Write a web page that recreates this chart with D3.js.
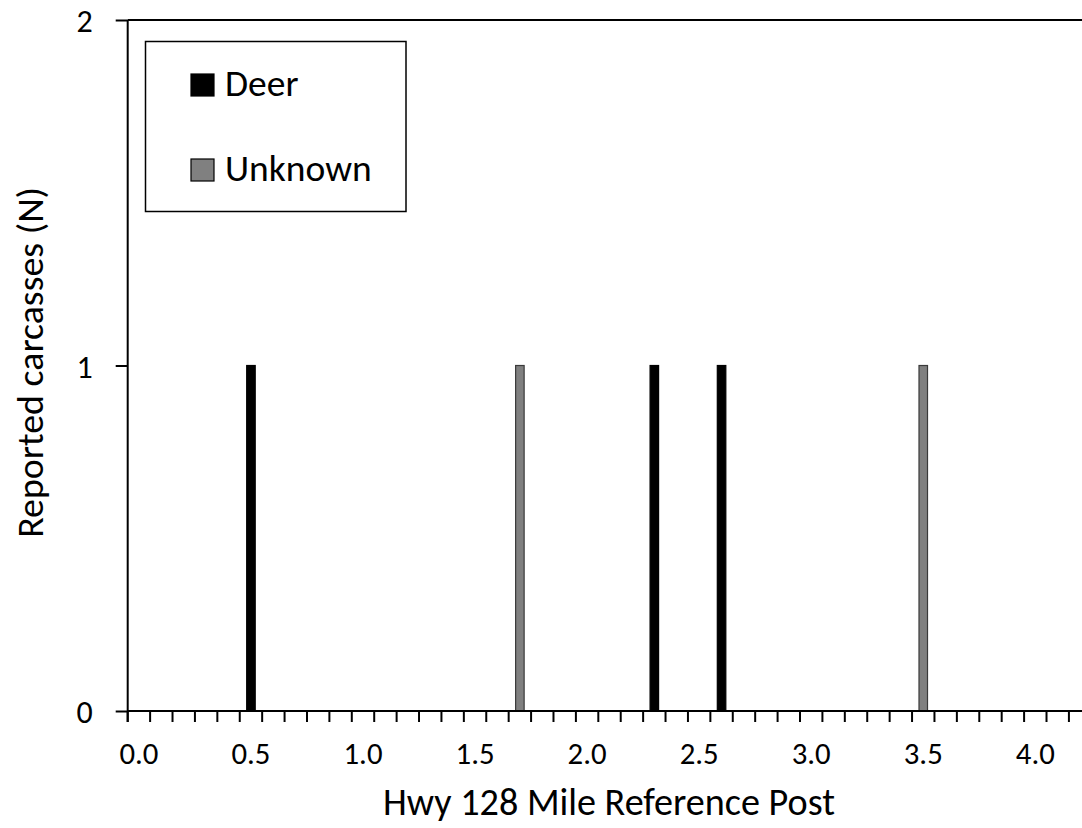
<!DOCTYPE html>
<html>
<head>
<meta charset="utf-8">
<script src="https://cdn.jsdelivr.net/npm/d3@7"></script>
<style>
  html, body { margin: 0; padding: 0; background: #fff; overflow: hidden; }
  svg { display: block; }
  text { font-family: Carlito, Lato, "Open Sans", sans-serif; fill: #000; }
</style>
</head>
<body>
<svg id="chart" width="1082" height="828"></svg>
<script>
// ---- data ----
const categories = ["0.0","0.1","0.2","0.3","0.4","0.5","0.6","0.7","0.8","0.9",
  "1.0","1.1","1.2","1.3","1.4","1.5","1.6","1.7","1.8","1.9",
  "2.0","2.1","2.2","2.3","2.4","2.5","2.6","2.7","2.8","2.9",
  "3.0","3.1","3.2","3.3","3.4","3.5","3.6","3.7","3.8","3.9",
  "4.0","4.1","4.2","4.3"];
const xTickLabels = ["0.0","0.5","1.0","1.5","2.0","2.5","3.0","3.5","4.0"];
const yTicks = [0, 1, 2];
const deerPosts = ["0.5","2.3","2.6"];
const deerCounts = [1, 1, 1];
const unknownPosts = ["1.7","3.5"];
const unknownCounts = [1, 1];
const seriesNames = ["Deer", "Unknown"];
const seriesColors = ["#000000", "#808080"];
const seriesStrokes = ["#000000", "#3a3a3a"];

// ---- layout ----
const svg = d3.select("#chart");
const plotLeft = 127.7, plotTop = 20, plotBottom = 711;
const band = 22.41;
const x = d3.scaleBand().domain(categories)
  .range([plotLeft, plotLeft + band * categories.length]).paddingInner(0).paddingOuter(0);
const y = d3.scaleLinear().domain([0, 2]).range([plotBottom, plotTop]);

function fitFont(sel, target) {
  sel.style("font-size", "40px");
  const w = sel.node().getComputedTextLength();
  const fs = 40 * target / w;
  sel.style("font-size", fs + "px");
  return fs;
}

// plot area top border
svg.append("line")
  .attr("x1", plotLeft).attr("x2", 1082)
  .attr("y1", y(2)).attr("y2", y(2))
  .attr("stroke", "#000").attr("stroke-width", 2);

// bars
const barW = band * 0.38;
function drawBars(posts, counts, i) {
  svg.append("g").selectAll("rect")
    .data(posts.map((p, k) => ({p, v: counts[k]})))
    .join("rect")
    .attr("x", d => x(d.p) + (x.bandwidth() - barW) / 2)
    .attr("width", barW)
    .attr("y", d => y(d.v))
    .attr("height", d => y(0) - y(d.v))
    .attr("fill", seriesColors[i])
    .attr("stroke", seriesStrokes[i])
    .attr("stroke-width", 1.2);
}
drawBars(deerPosts, deerCounts, 0);
drawBars(unknownPosts, unknownCounts, 1);

// x axis line
svg.append("line")
  .attr("x1", plotLeft).attr("x2", 1082)
  .attr("y1", y(0)).attr("y2", y(0))
  .attr("stroke", "#000").attr("stroke-width", 2);

// x ticks at category boundaries
svg.append("g").selectAll("line")
  .data(categories)
  .join("line")
  .attr("x1", d => x(d)).attr("x2", d => x(d))
  .attr("y1", y(0)).attr("y2", y(0) + 11)
  .attr("stroke", "#000").attr("stroke-width", 2);

// x tick labels (centered on category)
const xAxis = d3.axisBottom(x).tickValues(xTickLabels).tickSize(0).tickPadding(0);
const gx = svg.append("g").attr("transform", `translate(0,${y(0)})`).call(xAxis);
gx.attr("font-family", null).attr("font-size", null);
gx.select(".domain").remove();
const xLabelSize = fitFont(gx.select(".tick text"), 39);
gx.selectAll(".tick text")
  .style("font-size", xLabelSize + "px")
  .attr("dy", null)
  .attr("y", 53);

// y axis
const yAxis = d3.axisLeft(y).tickValues(yTicks).tickSize(12).tickPadding(0).tickFormat(d3.format("d"));
const gy = svg.append("g").attr("transform", `translate(${plotLeft},0)`).call(yAxis);
gy.attr("font-family", null).attr("font-size", null);
gy.select(".domain").attr("d", `M0,${y(2)}V${y(0) + 11}`).attr("stroke-width", 2);
gy.selectAll(".tick line").attr("stroke-width", 2);
gy.selectAll(".tick text")
  .attr("x", -35)
  .attr("dy", "0.36em")
  .style("font-size", "32px");

// axis titles
const xt = svg.append("text")
  .attr("x", (383 + 835) / 2).attr("y", 815)
  .attr("text-anchor", "middle")
  .text("Hwy 128 Mile Reference Post");
fitFont(xt, 452);

const yt = svg.append("text")
  .attr("transform", `translate(43,${(186.7 + 538) / 2}) rotate(-90)`)
  .attr("text-anchor", "middle")
  .text("Reported carcasses (N)");
fitFont(yt, 351);

// legend
const lg = svg.append("g");
lg.append("rect")
  .attr("x", 145.5).attr("y", 41.5).attr("width", 260.5).attr("height", 170)
  .attr("fill", "#fff").attr("stroke", "#000").attr("stroke-width", 1.5);
const legendRows = [85, 170];
const lt = [];
seriesNames.forEach((name, i) => {
  lg.append("rect")
    .attr("x", 191).attr("y", legendRows[i] - 11).attr("width", 23).attr("height", 22)
    .attr("fill", seriesColors[i]).attr("stroke", "#000").attr("stroke-width", 1.2);
  lt.push(lg.append("text")
    .attr("x", 225).attr("y", legendRows[i] + 11)
    .text(name));
});
const lfs = fitFont(lt[1], 146.7);
lt[0].style("font-size", lfs + "px");
</script>
</body>
</html>
